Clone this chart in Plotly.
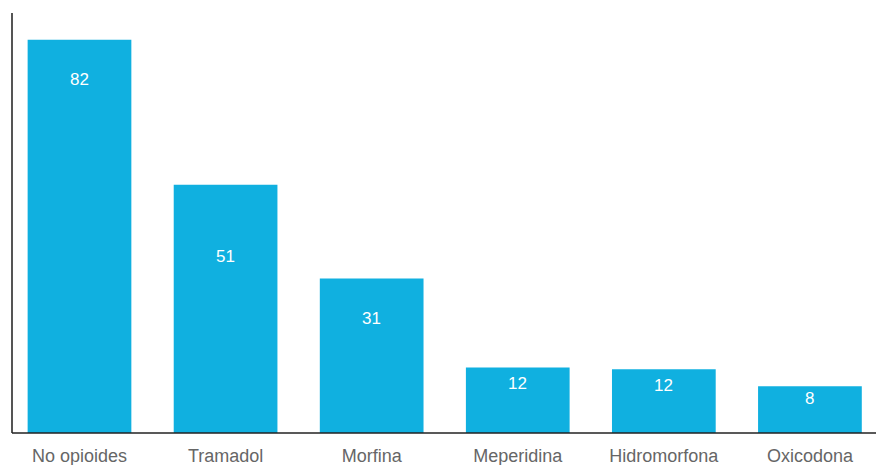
import plotly.graph_objects as go

categories = ["No opioides", "Tramadol", "Morfina", "Meperidina", "Hidromorfona", "Oxicodona"]
values = [82, 51, 31, 12, 11.6, 8]
label_offsets = [40, 72, 40, 16, 16, 12]

BAR_COLOR = "#10b0e0"
BASE = -2
FONT = "Liberation Sans, Arial, sans-serif"

fig = go.Figure()
fig.add_trace(go.Bar(
    x=categories, y=[v - BASE for v in values], base=BASE,
    marker=dict(color=BAR_COLOR, line=dict(width=0)),
    width=0.71, hoverinfo="skip",
))

for c, v, off in zip(categories, values, label_offsets):
    fig.add_annotation(x=c, y=v, text=f"{v:.0f}", showarrow=False,
                       yanchor="middle", yshift=-off,
                       font=dict(family=FONT, size=17, color="white"))

fig.update_layout(
    width=876, height=457,
    margin=dict(l=4, r=0, t=5, b=32, autoexpand=False),
    plot_bgcolor="white", paper_bgcolor="white",
    showlegend=False,
    xaxis=dict(range=[-0.462, 5.507], showgrid=False, ticks="", showline=False,
               ticklabelstandoff=10,
               tickfont=dict(family=FONT, size=18, color="#666666")),
    yaxis=dict(range=[BASE, 87.7], showgrid=False, zeroline=False, showticklabels=False,
               ticks="", showline=False),
    shapes=[
        dict(type="line", xref="paper", yref="paper", x0=0, x1=0, y0=0, y1=1,
             line=dict(color="#555555", width=2)),
        dict(type="line", xref="paper", yref="paper", x0=0, x1=1, y0=0, y1=0,
             line=dict(color="#222222", width=1.5)),
    ],
)

fig.write_html("out.html")
